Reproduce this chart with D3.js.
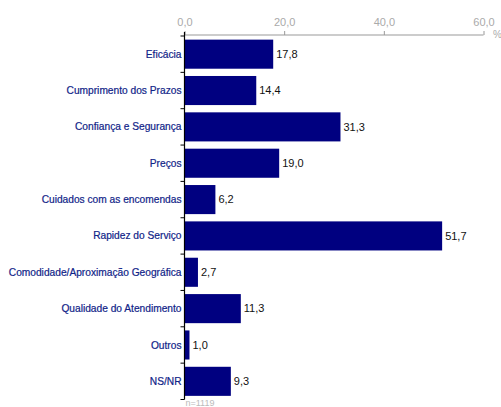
<!DOCTYPE html>
<html>
<head>
<meta charset="utf-8">
<script src="https://cdn.jsdelivr.net/npm/d3@7/dist/d3.min.js"></script>
<style>
  html, body { margin: 0; padding: 0; background: #fff; }
  svg { display: block; font-family: "Liberation Sans", Arial, sans-serif; }
</style>
</head>
<body>
<script>
// Motivos de escolha (%)
const categories = [
  "Eficácia",
  "Cumprimento dos Prazos",
  "Confiança e Segurança",
  "Preços",
  "Cuidados com as encomendas",
  "Rapidez do Serviço",
  "Comodidade/Aproximação Geográfica",
  "Qualidade do Atendimento",
  "Outros",
  "NS/NR"
];
const values = [17.8, 14.4, 31.3, 19.0, 6.2, 51.7, 2.7, 11.3, 1.0, 9.3];
const xTicks = [0, 20, 40, 60];
const sampleNote = "n=1119";

const W = 501, H = 407;
const mLeft = 184.5, mRight = 483.5, mTop = 36, mBottom = 399.5;

const fmt = v => v.toFixed(1).replace(".", ",");

const svg = d3.select("body").append("svg")
  .attr("width", W).attr("height", H);

const x = d3.scaleLinear().domain([0, 60]).range([mLeft, mRight]);
const y = d3.scaleBand().domain(categories).range([mTop, mBottom])
  .paddingInner(0.2).paddingOuter(0.1);

// bars
svg.append("g").selectAll("rect")
  .data(values)
  .join("rect")
  .attr("x", x(0))
  .attr("y", (d, i) => y(categories[i]))
  .attr("width", d => x(d) - x(0))
  .attr("height", y.bandwidth())
  .attr("fill", "#000080");

// value labels
svg.append("g").selectAll("text")
  .data(values)
  .join("text")
  .attr("x", d => x(d) + 3)
  .attr("y", (d, i) => y(categories[i]) + y.bandwidth() / 2)
  .attr("dy", "0.35em")
  .attr("font-size", 11)
  .attr("fill", "#111")
  .text(d => fmt(d));

// top value axis
const xAxis = svg.append("g")
  .attr("transform", `translate(0,${mTop - 1})`)
  .call(d3.axisTop(x).tickValues(xTicks).tickSize(4).tickPadding(5).tickFormat(fmt));
xAxis.select(".domain").attr("stroke", "#999").attr("d", `M${x(0)},0H${x(60)}`);
xAxis.selectAll(".tick line").attr("stroke", "#999");
xAxis.selectAll(".tick text").attr("fill", "#aaa").attr("font-size", 11)
  .attr("font-family", "'Liberation Sans', Arial, sans-serif");

svg.append("text")
  .attr("x", 493).attr("y", 38)
  .attr("fill", "#aaa").attr("font-size", 10)
  .text("%");

// category axis with ticks at band boundaries
const step = y.step();
const boundaries = d3.range(categories.length + 1).map(i => mTop + i * step);
const yAxis = svg.append("g");
yAxis.append("line")
  .attr("x1", x(0)).attr("x2", x(0))
  .attr("y1", mTop - 4).attr("y2", mBottom)
  .attr("stroke", "#000").attr("stroke-width", 1.2);
yAxis.selectAll("line.tk")
  .data(boundaries)
  .join("line").attr("class", "tk")
  .attr("x1", x(0) - 4).attr("x2", x(0))
  .attr("y1", d => d).attr("y2", d => d)
  .attr("stroke", "#000");

yAxis.selectAll("text")
  .data(categories)
  .join("text")
  .attr("x", x(0) - 3)
  .attr("y", d => y(d) + y.bandwidth() / 2)
  .attr("dy", "0.35em")
  .attr("text-anchor", "end")
  .attr("font-size", 10.2)
  .attr("fill", "#102488")
  .attr("stroke", "#102488")
  .attr("stroke-width", 0.2)
  .text(d => d);

svg.append("text")
  .attr("x", x(0) + 1).attr("y", 405.5)
  .attr("fill", "#bbb").attr("font-size", 9)
  .text(sampleNote);
</script>
</body>
</html>
